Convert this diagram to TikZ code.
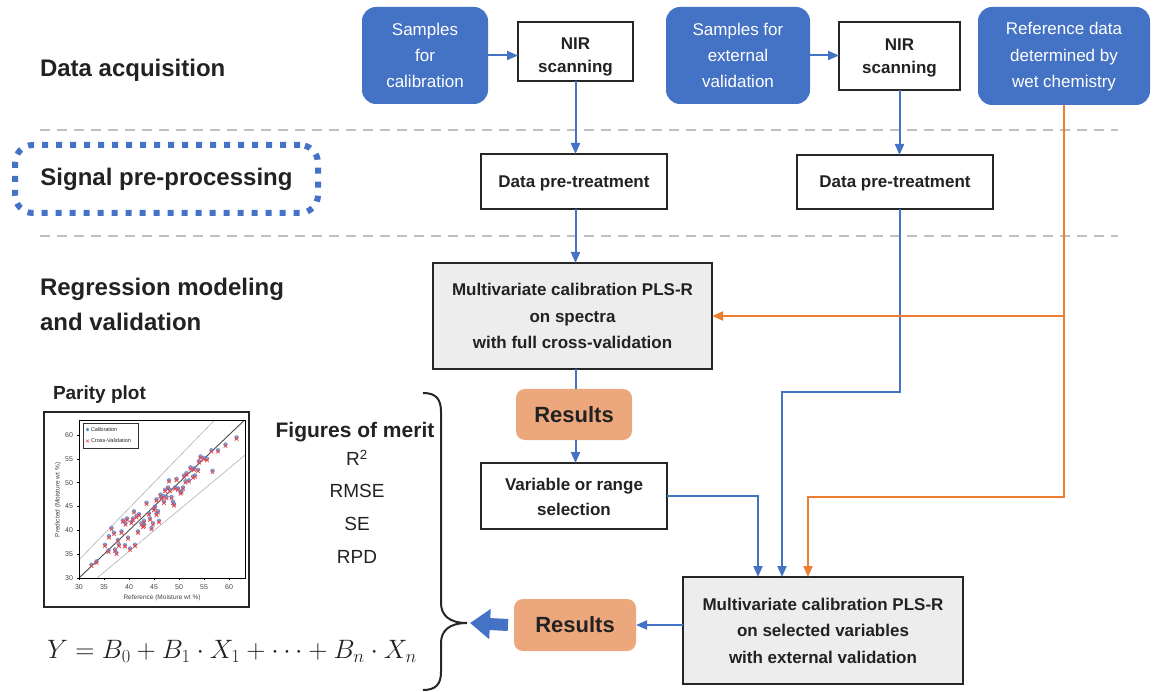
\documentclass[tikz,border=0pt]{standalone}
\usepackage[no-math]{fontspec}
\usepackage{graphicx}
\setmainfont{Liberation Sans}
\usetikzlibrary{arrows.meta,calc}

\definecolor{nodeblue}{HTML}{4472C4}
\definecolor{lineblue}{HTML}{4472C4}
\definecolor{lineorange}{HTML}{ED7D31}
\definecolor{resfill}{HTML}{EDA77D}
\definecolor{calfill}{HTML}{EDEDED}
\definecolor{boxline}{HTML}{262626}
\definecolor{ink}{HTML}{222222}
\definecolor{sepgray}{HTML}{BFBFBF}
\definecolor{calblue}{HTML}{5A8AD2}
\definecolor{cvred}{HTML}{E8464A}
\definecolor{guide}{HTML}{B0B0B0}

\begin{document}
\begin{tikzpicture}[x=1pt,y=-1pt,
  every node/.style={inner sep=0pt, outer sep=0pt},
  bluebox/.style={fill=nodeblue, rounded corners=14pt, text=white, align=center,
    font=\fontsize{17}{26}\selectfont},
  plainbox/.style={draw=boxline, line width=2.2pt, fill=white, align=center, text=ink,
    font=\bfseries\fontsize{17}{21}\selectfont},
  boxtext/.style={align=center, text=ink, font=\bfseries\fontsize{17}{23}\selectfont},
  calbox/.style={plainbox, fill=calfill, font=\bfseries\fontsize{17}{26.5}\selectfont},
  resbox/.style={fill=resfill, rounded corners=9pt, text=ink,
    font=\bfseries\fontsize{22}{26}\selectfont},
  heading/.style={align=left, text=ink, font=\bfseries\fontsize{24}{35}\selectfont},
  dotframe/.style={draw=nodeblue, line width=6pt, dash pattern=on 6pt off 8pt,
    rounded corners=18pt},
  bluearrow/.style={draw=lineblue, line width=2pt, -{Triangle[length=11pt,width=9pt]}},
  blueline/.style={draw=lineblue, line width=2pt},
  orangearrow/.style={draw=lineorange, line width=2pt, -{Triangle[length=11pt,width=9pt]}},
  bigarrow/.style={draw=nodeblue, line width=12pt, -{Triangle[length=20pt,width=29pt]}},
  sepline/.style={draw=sepgray, line width=2pt, dash pattern=on 10pt off 7pt},
  tinytext/.style={text=ink!85, font=\fontsize{7}{8}\selectfont},
  legendtext/.style={text=ink, anchor=west, font=\fontsize{5.5}{6.5}\selectfont},
  metric/.style={text=ink, font=\fontsize{19}{22}\selectfont},
]
\useasboundingbox (0,0) rectangle (1159,692);

% stage separators
\draw[sepline] (40,130) -- (1118,130);
\draw[sepline] (40,236) -- (1118,236);

% stage headings
\node[heading, anchor=west] (hacq) at (40,70) {Data acquisition};
\node[heading, dotframe, minimum width=303, minimum height=68] (hsig) at (166.5,179) {Signal pre-processing};
\node[heading, anchor=west] (hreg) at (40,304.5) {Regression modeling\\and validation};

% acquisition row
\node[bluebox, minimum width=126, minimum height=97] (calsamp) at (425,55.5) {Samples\\for\\calibration};
\node[plainbox, minimum width=115, minimum height=59] (nir1) at (575.5,51.5) {};
\node[boxtext] (nir1t) at (575.5,57) {NIR\\scanning};
\node[bluebox, minimum width=144, minimum height=97] (valsamp) at (738,55.5) {Samples for\\external\\validation};
\node[plainbox, minimum width=121, minimum height=68] (nir2) at (899.5,56) {};
\node[boxtext] (nir2t) at (899.5,58) {NIR\\scanning};
\node[bluebox, font=\fontsize{17}{26.5}\selectfont, minimum width=172, minimum height=98] (refdata) at (1064,56) {\rule{0pt}{14pt}Reference data\\determined by\\wet chemistry};

% pre-processing row
\node[plainbox, minimum width=186, minimum height=55] (pre1) at (574,181.5) {\rule{0pt}{15pt}Data pre-treatment};
\node[plainbox, minimum width=196, minimum height=54] (pre2) at (895,182) {\rule{0pt}{15pt}Data pre-treatment};

% modelling
\node[calbox, minimum width=279, minimum height=106] (cal1) at (572.5,316) {Multivariate calibration PLS-R\\on spectra\\with full cross-validation};
\node[resbox, minimum width=116, minimum height=51] (res1) at (574,414.5) {Results};
\node[plainbox, font=\bfseries\fontsize{17}{25}\selectfont, minimum width=186, minimum height=66] (varsel) at (574,496) {\rule{0pt}{14pt}Variable or range\\selection};
\node[calbox, minimum width=280, minimum height=107] (cal2) at (823,630.5) {Multivariate calibration PLS-R\\on selected variables\\with external validation};
\node[resbox, minimum width=122, minimum height=52] (res2) at (575,625) {Results};

% entry points on the top of the external-validation model
\coordinate (in1) at ($(cal2.north west)+(75,0)$);
\coordinate (in2) at ($(cal2.north west)+(99,0)$);
\coordinate (in3) at ($(cal2.north west)+(125,0)$);

% connectors
\draw[bluearrow] (calsamp.east) -- (nir1.west |- calsamp.east);
\draw[bluearrow] (valsamp.east) -- (nir2.west |- valsamp.east);
\draw[bluearrow] (nir1.south) -- (nir1.south |- pre1.north);
\draw[bluearrow] (nir2.south) -- (nir2.south |- pre2.north);
\draw[bluearrow] (nir1.south |- pre1.south) -- (nir1.south |- cal1.north);
\draw[blueline] (nir1.south |- cal1.south) -- (nir1.south |- res1.north);
\draw[bluearrow] (nir1.south |- res1.south) -- (nir1.south |- varsel.north);
\draw[bluearrow] (varsel.east) -| (in1);
\draw[bluearrow] (nir2.south |- pre2.south) -- ++(0,183) -| (in2);
\draw[orangearrow] (refdata.south) -- ++(0,392) -| (in3);
\draw[orangearrow] (refdata.south |- cal1.east) -- (cal1.east);
\draw[bluearrow] (cal2.west |- res2.east) -- (res2.east);

% brace gathering the outputs
\coordinate (bracetip) at (467,623);
\draw[draw=boxline, line width=2pt]
  (423,393) .. controls (436,393) and (441,399) .. (441,412) -- (441,603)
  .. controls (441,615) and (449,623) .. (bracetip)
  .. controls (449,623) and (441,631) .. (441,643) -- (441,672)
  .. controls (441,684) and (436,690) .. (423,690);
\draw[bigarrow] ($(res2.west)+(-6,0)$) -- ($(bracetip)+(3,0)$);

% figures of merit
\node[text=ink, font=\bfseries\fontsize{21}{24}\selectfont] (fom) at (355,432) {Figures of merit};
\node[metric] (m1) at (357,458) {R\textsuperscript{2}};
\node[metric] (m2) at (357,491) {RMSE};
\node[metric] (m3) at (357,524) {SE};
\node[metric] (m4) at (357,557) {RPD};

% regression equation
\node[text=ink, font=\fontsize{26}{30}\selectfont] (eq) at (232,651) {\scalebox{1.07}{$Y = B_0 + B_1\cdot X_1 + \cdots + B_n\cdot X_n$}};

% parity plot
\node[text=ink, anchor=west, font=\bfseries\fontsize{19}{22}\selectfont] (pptitle) at (53,395) {Parity plot};
\draw[draw=boxline, line width=2.5pt] (44,412) rectangle (249,607);
\begin{scope}[shift={(-71,721.1)}, x=5pt, y=4.77pt]
  \draw[guide, line width=0.6pt] (30,33.8) -- (57.1,63.1);
  \draw[guide, line width=0.6pt] (33.6,30) -- (63.2,55.75);
  \draw[black!70, line width=0.9pt] (30,30) -- (63.1,63.1);
  \foreach \a/\b in {32.5/32.8,33.5/33.5,35.9/35.8,35.2/37.0,36.5/40.5,37.0/39.5,37.2/36.0,
    37.5/35.3,37.8/38.0,38.0/37.0,38.5/39.8,39.3/41.5,39.6/42.5,39.2/36.9,40.2/36.2,40.5/41.8,
    40.8/42.5,41.0/44.0,41.2/37.0,41.5/43.0,41.8/39.8,42.5/41.5,42.8/41.0,43.0/42.0,43.5/45.8,
    44.0/43.6,44.2/42.5,44.5/40.5,44.8/41.5,45.0/44.5,45.2/45.0,45.5/46.5,45.8/44.0,46.0/42.0,
    46.3/47.5,46.5/46.8,47.0/46.0,47.5/47.0,47.8/49.0,48.0/50.5,48.2/48.5,48.5/47.0,48.8/46.0,
    49.0/45.5,49.2/49.0,49.5/50.8,49.8/48.8,50.3/48.0,50.8/49.0,51.0/51.5,51.3/50.3,51.5/52.0,
    52.0/50.5,52.3/53.2,52.8/51.3,53.2/51.5,53.8/52.7,54.0/54.5,54.3/55.5,55.0/55.2,56.5/56.8,
    56.7/52.5,57.8/56.8,59.3/58.0,61.5/59.5,47.2/48.5,43.0/41.2,46.8/47.2,45.5/43.5,39.8/38.5,
    36.0/38.8,50.5/48.2,53.0/53.0,42.0/43.4,38.8/42.1,55.6/55.0}{
    \fill[calblue, opacity=0.8] (\a,\b) circle[radius=2.2pt];
    \draw[cvred, line width=0.8pt] (\a,\b-0.3) ++(-1.8pt,-1.8pt) -- ++(3.6pt,3.6pt) ++(-3.6pt,0pt) -- ++(3.6pt,-3.6pt);
  }
  \draw[black, line width=0.6pt] (30,30) rectangle (63.2,63.1);
  \foreach \t in {30,35,...,60}{
    \draw[black, line width=0.5pt] (\t,30) -- ++(0,-2pt);
    \draw[black, line width=0.5pt] (30,\t) -- ++(-2pt,0);
  }
\end{scope}
% tick labels and axis titles of the parity plot
\foreach \t [count=\k from 0] in {30,35,40,45,50,55,60}{
  \node[tinytext] (xt\k) at (79+25*\k,587) {\t};
  \node[tinytext] (yt\k) at (69,578-23.85*\k) {\t};
}
\node[tinytext, font=\fontsize{6.5}{7.5}\selectfont] (xlab) at (162,598) {Reference (Moisture wt \%)};
\node[tinytext, font=\fontsize{6.5}{7.5}\selectfont, rotate=90] (ylab) at (58,500) {Predicted (Moisture wt \%)};
% legend
\draw[black!80, line width=0.6pt] (83,423) rectangle (138,448);
\fill[calblue] (87.5,429.5) circle[radius=1.8pt];
\node[legendtext] (lg1) at (91,429.5) {Calibration};
\draw[cvred, line width=0.7pt] (86,439.5) -- (89,442.5) (86,442.5) -- (89,439.5);
\node[legendtext] (lg2) at (91,441) {Cross-Validation};
\end{tikzpicture}
\end{document}
